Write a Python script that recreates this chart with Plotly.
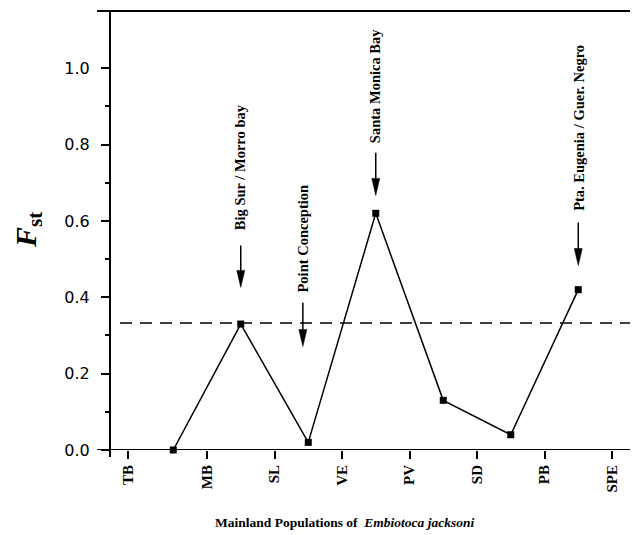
import plotly.graph_objects as go

# ---- data ----
categories = ["TB", "MB", "SL", "VE", "PV", "SD", "PB", "SPE"]
tick_pos = [-0.17, 1, 2, 3, 4, 5, 6, 7]
pair_pos = [0.5, 1.5, 2.5, 3.5, 4.5, 5.5, 6.5]
fst = [0.0, 0.33, 0.02, 0.62, 0.13, 0.04, 0.42]
threshold = 0.333
y_ticks = [0.0, 0.2, 0.4, 0.6, 0.8, 1.0]
y_minor = [0.1, 0.3, 0.5, 0.7, 0.9]

break_labels = ["Big Sur / Morro bay", "Point Conception", "Santa Monica Bay",
                "Pta. Eugenia / Guer. Negro"]
break_x = [1.5, 2.42, 3.5, 6.5]
break_tip = [0.426, 0.271, 0.667, 0.483]
break_top = [0.536, 0.386, 0.779, 0.596]
label_bottom = [0.570, 0.407, 0.798, 0.622]

# ---- layout geometry (page body has an 8px margin) ----
W, H = 630, 527
ML, MR, MT, MB = 102, 1, 3, 85
XR = [-0.437, 7.37]
YR = [0.0, 1.15]
plot_w = W - ML - MR
plot_h = H - MT - MB
px_x = plot_w / (XR[1] - XR[0])
px_y = plot_h / (YR[1] - YR[0])

SERIF = "Liberation Serif, Times New Roman, serif"
SANS = "DejaVu Sans, Verdana, sans-serif"

fig = go.Figure()
fig.add_trace(go.Scatter(
    x=pair_pos, y=fst, mode="lines+markers",
    line=dict(color="black", width=1.5),
    marker=dict(symbol="square", size=7, color="black"),
    cliponaxis=False, showlegend=False, hoverinfo="skip",
))

shapes = []
# axis frame lines
shapes.append(dict(type="line", xref="paper", yref="y", x0=-13 / plot_w, x1=1.002,
                   y0=0, y1=0, line=dict(color="black", width=2), layer="above"))
shapes.append(dict(type="line", xref="paper", yref="paper", x0=0, x1=0,
                   y0=-7 / plot_h, y1=1, line=dict(color="black", width=2), layer="above"))
shapes.append(dict(type="line", xref="paper", yref="paper", x0=-13 / plot_w, x1=1.002,
                   y0=1, y1=1, line=dict(color="black", width=2), layer="above"))
shapes.append(dict(type="line", xref="paper", yref="paper", x0=1, x1=1,
                   y0=0.55, y1=1, line=dict(color="#e4e4e4", width=1), layer="below"))
# threshold dashed line
shapes.append(dict(type="line", xref="paper", yref="y", x0=10 / plot_w, x1=1.002,
                   y0=threshold, y1=threshold,
                   line=dict(color="black", width=1.5, dash="12px,8px")))

annotations = []
HEAD_LEN = 17 / px_y
HEAD_HW = 4 / px_x
for lab, bx, tip, top, lb in zip(break_labels, break_x, break_tip, break_top, label_bottom):
    shapes.append(dict(type="line", xref="x", yref="y", x0=bx, x1=bx,
                       y0=tip + HEAD_LEN * 0.8, y1=top,
                       line=dict(color="black", width=1.5)))
    shapes.append(dict(type="path", xref="x", yref="y",
                       path=f"M{bx},{tip} L{bx - HEAD_HW},{tip + HEAD_LEN} "
                            f"L{bx + HEAD_HW},{tip + HEAD_LEN} Z",
                       fillcolor="black", line=dict(color="black", width=0.5)))
    annotations.append(dict(x=bx, y=lb, xref="x", yref="y", text=f"<b>{lab}</b>",
                            textangle=-90, showarrow=False, xanchor="center",
                            yanchor="bottom",
                            font=dict(family=SERIF, size=14.5, color="black")))

# axis titles
annotations.append(dict(x=-82 / plot_w, y=0.501, xref="paper", yref="paper",
                        text="<b><i>F</i></b><sub><b>st</b></sub>", textangle=-90,
                        showarrow=False, xanchor="center", yanchor="middle",
                        font=dict(family=SERIF, size=30, color="black")))
annotations.append(dict(x=234 / plot_w, y=-72 / plot_h, xref="paper", yref="paper",
                        text="<b>Mainland Populations of&nbsp; <i>Embiotoca jacksoni</i></b>",
                        showarrow=False, xanchor="center", yanchor="middle",
                        font=dict(family=SERIF, size=13.5, color="black")))

fig.update_layout(
    width=W, height=H,
    margin=dict(l=ML, r=MR, t=MT, b=MB, pad=0),
    paper_bgcolor="white", plot_bgcolor="white",
    shapes=shapes, annotations=annotations,
    xaxis=dict(range=XR, showline=False, showgrid=False, zeroline=False,
               tickmode="array", tickvals=tick_pos,
               ticktext=[f"<b>{c}</b>" for c in categories],
               ticks="outside", ticklen=8, tickwidth=1.5, tickcolor="black",
               tickangle=-90, tickfont=dict(family=SERIF, size=15, color="black")),
    yaxis=dict(range=YR, showline=False, showgrid=False, zeroline=False,
               tickmode="array", tickvals=y_ticks,
               ticktext=[f"{v:.1f}" for v in y_ticks],
               ticks="outside", ticklen=8, tickwidth=1.5, tickcolor="black",
               ticklabelstandoff=8,
               tickfont=dict(family=SANS, size=16, color="black"),
               minor=dict(tickmode="array", tickvals=y_minor, ticks="outside",
                          ticklen=4, tickwidth=1.5, tickcolor="black", showgrid=False)),
)

fig.write_html("out.html")
